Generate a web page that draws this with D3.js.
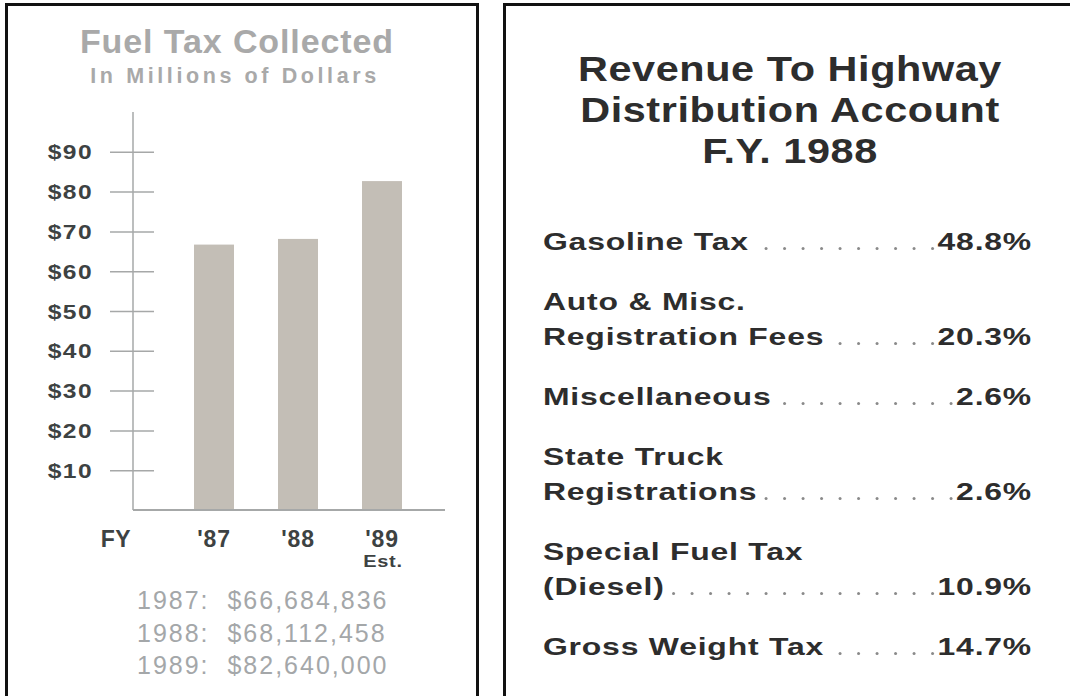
<!DOCTYPE html>
<html>
<head>
<meta charset="utf-8">
<script src="https://cdn.jsdelivr.net/npm/d3@7"></script>
<style>
  html, body { margin: 0; padding: 0; background: #fff; }
  svg { display: block; }
  text { font-family: "Liberation Sans", Arial, Helvetica, sans-serif; }
</style>
</head>
<body>
<script>
// ---- Fuel tax collected (left panel) ----
const fuelYears = ["'87", "'88", "'89"];
const fuelTaxDollars = [66684836, 68112458, 82640000];
const summaryYears = [1987, 1988, 1989];
const yTickValues = [10, 20, 30, 40, 50, 60, 70, 80, 90];
const estimateNote = "Est.";

// ---- Revenue to highway distribution account (right panel) ----
const revenueLabels = [
  ["Gasoline Tax"],
  ["Auto & Misc.", "Registration Fees"],
  ["Miscellaneous"],
  ["State Truck", "Registrations"],
  ["Special Fuel Tax", "(Diesel)"],
  ["Gross Weight Tax"]
];
const revenueShares = [48.8, 20.3, 2.6, 2.6, 10.9, 14.7];
const revenueTitle = ["Revenue To Highway", "Distribution Account", "F.Y. 1988"];

const W = 1070, H = 696;
const svg = d3.select("body").append("svg").attr("width", W).attr("height", H);

// panel frames
svg.append("rect").attr("x", 6.5).attr("y", 4.5).attr("width", 471).attr("height", 720)
  .attr("fill", "none").attr("stroke", "#111").attr("stroke-width", 3);
svg.append("rect").attr("x", 504.5).attr("y", 4.5).attr("width", 600).attr("height", 720)
  .attr("fill", "none").attr("stroke", "#111").attr("stroke-width", 3);

// text helper: horizontally stretched text placed at (x, y)
function stretchedText(parent, x, y, str, opts) {
  const g = parent.append("g")
    .attr("transform", `translate(${x},${y}) scale(${opts.sx || 1},1)`);
  const t = g.append("text")
    .attr("text-anchor", opts.anchor || "start")
    .attr("font-size", opts.size)
    .attr("font-weight", opts.weight || "bold")
    .attr("letter-spacing", opts.ls || 0)
    .attr("fill", opts.color)
    .style("white-space", "pre")
    .text(str);
  return t;
}

// ===== Left panel: bar chart =====
const left = svg.append("g");
const titleGray = "#a9a9a9";
const labelDark = "#3d4242";

stretchedText(left, 237, 53, "Fuel Tax Collected", { size: 34, anchor: "middle", color: titleGray, ls: 0.9 });
stretchedText(left, 235, 83, "In Millions of Dollars", { size: 21.5, anchor: "middle", color: titleGray, ls: 3.6 });

const y = d3.scaleLinear().domain([0, 100]).range([510, 112]);
const x = d3.scaleBand().domain(fuelYears).range([172, 424]).paddingInner(0.524).paddingOuter(0.262);
const axisX = 133;

// bars
left.selectAll("rect.bar").data(fuelTaxDollars).join("rect")
  .attr("class", "bar")
  .attr("x", (d, i) => x(fuelYears[i]))
  .attr("width", x.bandwidth())
  .attr("y", d => y(d / 1e6))
  .attr("height", d => y(0) - y(d / 1e6))
  .attr("fill", "#c3beb6");

// y axis with ticks that cross the axis line
const yAxis = left.append("g").attr("transform", `translate(${axisX},0)`)
  .call(d3.axisLeft(y).tickValues(yTickValues).tickFormat(() => ""));
yAxis.select(".domain").remove();
yAxis.selectAll(".tick line")
  .attr("x1", -23).attr("x2", 21)
  .attr("stroke", "#a6a8a8").attr("stroke-width", 1.5);
left.append("line")
  .attr("x1", axisX).attr("x2", axisX).attr("y1", y(100)).attr("y2", y(0))
  .attr("stroke", "#a6a8a8").attr("stroke-width", 1.5);
left.append("line")
  .attr("x1", axisX).attr("x2", 445).attr("y1", y(0)).attr("y2", y(0))
  .attr("stroke", "#a6a8a8").attr("stroke-width", 1.8);

// y tick labels
yTickValues.forEach(v => {
  stretchedText(left, 93, y(v) + 7.5, "$" + v, { size: 20.5, anchor: "end", color: labelDark, ls: 1.2, sx: 1.2 });
});

// x labels
stretchedText(left, 116, 547, "FY", { size: 23, anchor: "middle", color: labelDark, ls: 0.5 });
fuelYears.forEach(k => {
  stretchedText(left, x(k) + x.bandwidth() / 2, 547, k, { size: 23, anchor: "middle", color: labelDark, ls: 0.8 });
});
stretchedText(left, x("'89") + x.bandwidth() / 2 + 1, 567, estimateNote, { size: 16, anchor: "middle", color: labelDark, ls: 0.6, sx: 1.25 });

// collected amounts
const fmtDollars = d3.format("$,");
summaryYears.forEach((yr, i) => {
  stretchedText(left, 137, 609 + i * 32.5, `${yr}:  ${fmtDollars(fuelTaxDollars[i])}`,
    { size: 25, weight: "normal", color: "#a4a7a9", ls: 2.0 });
});

// ===== Right panel: revenue shares =====
const right = svg.append("g");
const darkText = "#2d2d2d";
const titleSX = 1.2;
revenueTitle.forEach((line, i) => {
  stretchedText(right, 790, 81 + i * 41, line, { size: 34.5, anchor: "middle", color: darkText, ls: 0.5, sx: titleSX });
});

const itemSX = 1.33, itemSize = 24, itemLS = 0.6;
const labelX = 543, valueRight = 1032;
const fmtShare = v => d3.format(".1f")(v) + "%";
let baseY = 250;
revenueLabels.forEach((lines, i) => {
  let lastText = null, lastY = baseY;
  lines.forEach((ln, j) => {
    lastY = baseY + j * 35;
    lastText = stretchedText(right, labelX, lastY, ln, { size: itemSize, color: darkText, ls: itemLS, sx: itemSX });
  });
  const val = stretchedText(right, valueRight, lastY, fmtShare(revenueShares[i]),
    { size: itemSize, anchor: "end", color: darkText, ls: itemLS, sx: itemSX });
  const labelEnd = labelX + lastText.node().getComputedTextLength() * itemSX;
  const valueStart = valueRight - val.node().getComputedTextLength() * itemSX;
  const dots = [];
  for (let dx = valueStart - 5; dx > labelEnd + 8; dx -= 18.5) dots.push(dx);
  right.selectAll(null).data(dots).join("circle")
    .attr("cx", d => d).attr("cy", lastY - 1.5).attr("r", 1.5)
    .attr("fill", "#8a8a8a");
  baseY = lastY + 60;
});
</script>
</body>
</html>
